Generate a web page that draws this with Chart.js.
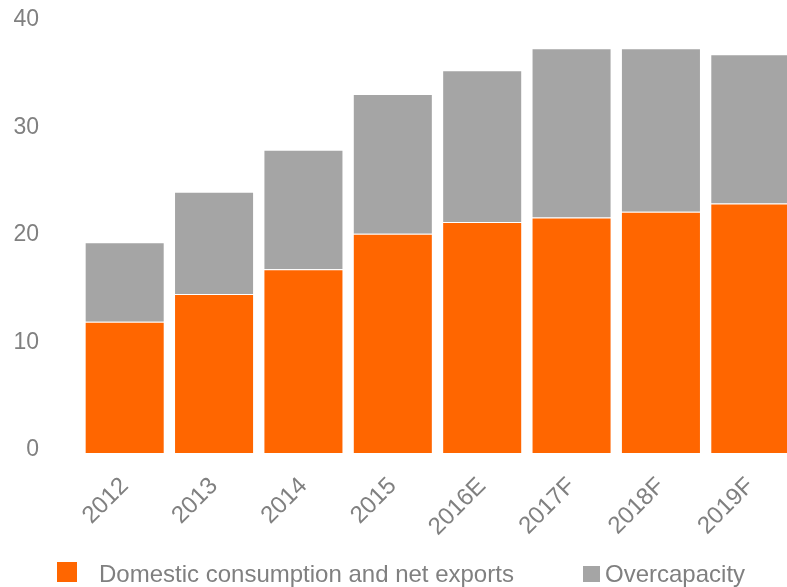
<!DOCTYPE html>
<html>
<head>
<meta charset="utf-8">
<script src="https://cdn.jsdelivr.net/npm/chart.js@4/dist/chart.umd.min.js"></script>
<style>
  html, body { margin: 0; padding: 0; background: #fff; overflow: hidden; }
  #wrap { width: 800px; height: 587px; position: relative; }
</style>
</head>
<body>
<div id="wrap"><canvas id="c"></canvas></div>
<script>
const categories = ['2012', '2013', '2014', '2015', '2016E', '2017F', '2018F', '2019F'];
const domesticNetExports = [12.2, 14.8, 17.1, 20.4, 21.5, 21.9, 22.45, 23.2];
const overcapacity = [7.4, 9.5, 11.1, 13.0, 14.1, 15.75, 15.2, 13.9];
const yTicks = [0, 10, 20, 30, 40];

const textGrey = '#808080';
const orange = '#FF6600';
const grey = '#A5A5A5';
const fontFamily = '"Liberation Sans", Arial, sans-serif';

// Legend drawn under the axis labels: a square swatch followed by the series name
const bottomLegend = {
  id: 'bottomLegend',
  afterDraw(chart) {
    const ctx = chart.ctx;
    const items = [
      { ds: 0, box: [57, 562, 20, 20], textX: 99 },
      { ds: 1, box: [583, 566, 17, 16], textX: 605 }
    ];
    ctx.save();
    ctx.font = '24px ' + fontFamily;
    ctx.textBaseline = 'alphabetic';
    ctx.textAlign = 'left';
    items.forEach(it => {
      const dataset = chart.data.datasets[it.ds];
      ctx.fillStyle = dataset.backgroundColor;
      ctx.fillRect(it.box[0], it.box[1], it.box[2], it.box[3]);
      ctx.fillStyle = textGrey;
      ctx.fillText(dataset.label, it.textX, 582);
    });
    ctx.restore();
  }
};

new Chart(document.getElementById('c'), {
  type: 'bar',
  data: {
    labels: categories,
    datasets: [
      {
        label: 'Domestic consumption and net exports',
        data: domesticNetExports,
        backgroundColor: orange,
        borderColor: 'rgba(255,255,255,0.35)',
        borderWidth: 1
      },
      {
        label: 'Overcapacity',
        data: overcapacity,
        backgroundColor: grey,
        borderColor: 'rgba(255,255,255,0.45)',
        borderWidth: 1
      }
    ]
  },
  options: {
    responsive: true,
    maintainAspectRatio: false,
    animation: false,
    layout: { padding: { top: 23, right: 5, left: 0, bottom: 24 } },
    datasets: { bar: { categoryPercentage: 0.9, barPercentage: 0.995 } },
    scales: {
      x: {
        stacked: true,
        afterFit: (scale) => { scale.height = 110; },
        grid: { display: false, drawTicks: false },
        border: { display: false },
        ticks: {
          color: textGrey,
          font: { family: fontFamily, size: 24 },
          maxRotation: 45,
          minRotation: 45,
          padding: 19
        }
      },
      y: {
        stacked: true,
        min: 0,
        max: 40,
        afterBuildTicks: (scale) => { scale.ticks = yTicks.map(v => ({ value: v })); },
        afterFit: (scale) => { scale.width = 80; },
        grid: { display: false, drawTicks: true, tickLength: 37 },
        border: { display: false },
        ticks: {
          color: textGrey,
          font: { family: fontFamily, size: 23 },
          padding: 4,
          labelOffset: -3
        }
      }
    },
    plugins: {
      tooltip: { enabled: false },
      legend: { display: false }
    }
  },
  plugins: [bottomLegend]
});
</script>
</body>
</html>
